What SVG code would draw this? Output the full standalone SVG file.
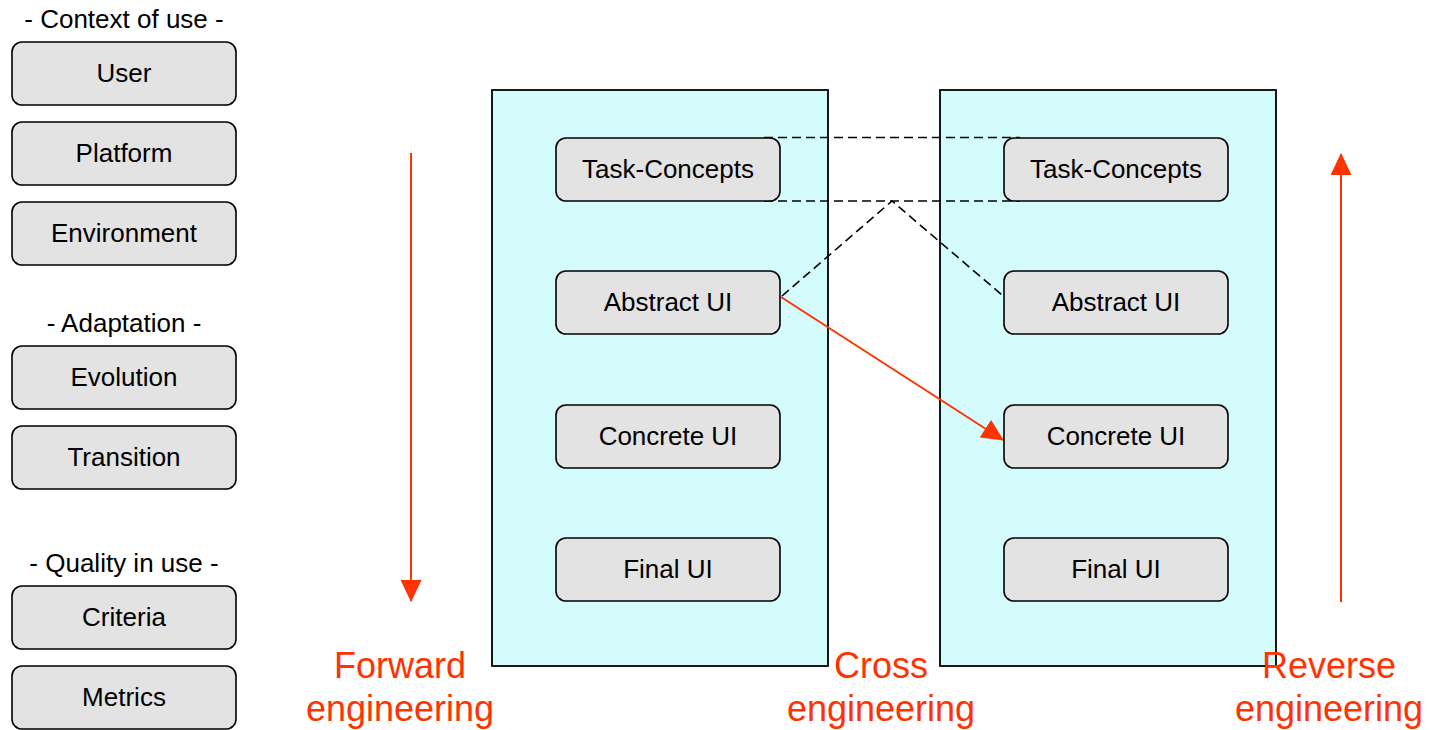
<svg xmlns="http://www.w3.org/2000/svg" width="1437" height="730" viewBox="0 0 1437 730">
<style>
.box{fill:#e3e3e3;stroke:#000;stroke-width:1.6}
.panel{fill:#d5fcfc;stroke:#000;stroke-width:1.8}
.lbl{font-family:"Liberation Sans",Arial,sans-serif;font-size:26px;fill:#000;text-anchor:middle}
.big{font-family:"Liberation Sans",Arial,sans-serif;font-size:36px;fill:#ff3300;text-anchor:middle}
.dash{fill:none;stroke:#000;stroke-width:1.6;stroke-dasharray:9 5}
.red{fill:none;stroke:#ff3300;stroke-width:2}
</style>
<defs>
<marker id="ah" viewBox="0 0 22 21" refX="21" refY="10.5" markerWidth="22" markerHeight="21" markerUnits="userSpaceOnUse" orient="auto">
<path d="M0,0 L22,10.5 L0,21 z" fill="#ff3300"/>
</marker>
</defs>
<rect width="1437" height="730" fill="#fff"/>

<g id="headers">
<text class="lbl" x="124" y="28">- Context of use -</text>
<text class="lbl" x="124" y="332">- Adaptation -</text>
<text class="lbl" x="124" y="572">- Quality in use -</text>
</g>

<g id="user"><rect class="box" x="12" y="42" width="224" height="63" rx="10"/><text class="lbl" x="124" y="82">User</text></g>
<g id="platform"><rect class="box" x="12" y="122" width="224" height="63" rx="10"/><text class="lbl" x="124" y="162">Platform</text></g>
<g id="environment"><rect class="box" x="12" y="202" width="224" height="63" rx="10"/><text class="lbl" x="124" y="242">Environment</text></g>
<g id="evolution"><rect class="box" x="12" y="346" width="224" height="63" rx="10"/><text class="lbl" x="124" y="386">Evolution</text></g>
<g id="transition"><rect class="box" x="12" y="426" width="224" height="63" rx="10"/><text class="lbl" x="124" y="466">Transition</text></g>
<g id="criteria"><rect class="box" x="12" y="586" width="224" height="63" rx="10"/><text class="lbl" x="124" y="626">Criteria</text></g>
<g id="metrics"><rect class="box" x="12" y="666" width="224" height="63" rx="10"/><text class="lbl" x="124" y="706">Metrics</text></g>

<g id="panel-left"><rect class="panel" x="492" y="90" width="336" height="576"/></g>
<g id="panel-right"><rect class="panel" x="940" y="90" width="336" height="576"/></g>

<g id="connectors">
<line class="dash" x1="764" y1="137.5" x2="1020" y2="137.5"/>
<line class="dash" x1="764" y1="201" x2="1020" y2="201"/>
<polyline class="dash" points="782,296 892,201 1002,295"/>
<line class="red" x1="781" y1="297" x2="1003" y2="440" marker-end="url(#ah)"/>
<line class="red" x1="411" y1="153" x2="411" y2="601" marker-end="url(#ah)"/>
<line class="red" x1="1341" y1="602" x2="1341" y2="154" marker-end="url(#ah)"/>
</g>

<g id="tc-left"><rect class="box" x="556" y="138" width="224" height="63" rx="10"/><text class="lbl" x="668" y="178">Task-Concepts</text></g>
<g id="aui-left"><rect class="box" x="556" y="271" width="224" height="63" rx="10"/><text class="lbl" x="668" y="311">Abstract UI</text></g>
<g id="cui-left"><rect class="box" x="556" y="405" width="224" height="63" rx="10"/><text class="lbl" x="668" y="445">Concrete UI</text></g>
<g id="fui-left"><rect class="box" x="556" y="538" width="224" height="63" rx="10"/><text class="lbl" x="668" y="578">Final UI</text></g>

<g id="tc-right"><rect class="box" x="1004" y="138" width="224" height="63" rx="10"/><text class="lbl" x="1116" y="178">Task-Concepts</text></g>
<g id="aui-right"><rect class="box" x="1004" y="271" width="224" height="63" rx="10"/><text class="lbl" x="1116" y="311">Abstract UI</text></g>
<g id="cui-right"><rect class="box" x="1004" y="405" width="224" height="63" rx="10"/><text class="lbl" x="1116" y="445">Concrete UI</text></g>
<g id="fui-right"><rect class="box" x="1004" y="538" width="224" height="63" rx="10"/><text class="lbl" x="1116" y="578">Final UI</text></g>

<g id="labels">
<text class="big" x="400" y="678">Forward</text>
<text class="big" x="400" y="721">engineering</text>
<text class="big" x="881" y="678">Cross</text>
<text class="big" x="881" y="721">engineering</text>
<text class="big" x="1329" y="678">Reverse</text>
<text class="big" x="1329" y="721">engineering</text>
</g>
</svg>
